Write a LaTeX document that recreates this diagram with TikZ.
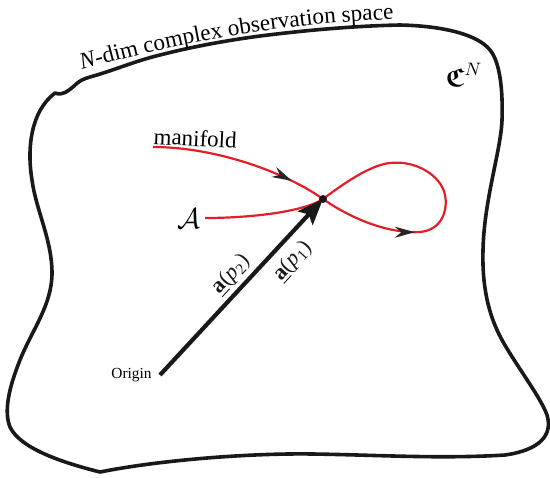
\documentclass[tikz,border=0pt]{standalone}
\usepackage{amsmath, amssymb}
\usepackage{fontspec}
\setmainfont{Liberation Serif}
\usetikzlibrary{arrows.meta, positioning, decorations.markings, decorations.text}
\definecolor{mfred}{RGB}{228,30,40}
\newcommand\ttlfont{\fontsize{11.6}{14}\selectfont}

\begin{document}
\begin{tikzpicture}[x=0.5pt, y=-0.5pt,
  outline/.style={line width=1.8pt, black!90, line join=round},
  mfold/.style={line width=1.1pt, mfred},
  tipmark/.style={postaction={decorate}, decoration={markings,
      mark=at position #1 with {\arrow[black!85]{Stealth[length=10pt, width=5.5pt]}}}},
  vec/.style={line width=2.1pt, black!90, -{Stealth[length=13pt, width=10pt, inset=2.5pt]}},
  dot/.style={circle, fill=black!90, inner sep=0pt, minimum size=4pt},
  lbl/.style={font=\fontsize{11}{13}\selectfont, inner sep=1pt}
]
  \useasboundingbox (0,0) rectangle (550,477);

  % observation space boundary
  \draw[outline] (55,93)
    .. controls (63,96) and (68,91) .. (74,86)
    .. controls (79,81) and (83,79) .. (90,77)
    .. controls (115,70) and (135,61) .. (160,55)
    .. controls (195,46) and (230,40) .. (260,36)
    .. controls (300,31) and (350,26) .. (400,25)
    .. controls (445,26) and (478,35) .. (490,50)
    .. controls (500,62) and (503,90) .. (502,120)
    .. controls (501,150) and (484,200) .. (483,250)
    .. controls (482,285) and (488,310) .. (497,330)
    .. controls (508,355) and (540,395) .. (547,415)
    .. controls (553,435) and (540,450) .. (505,455)
    .. controls (440,459) and (380,455) .. (313,454)
    .. controls (250,453) and (160,460) .. (100,472)
    .. controls (60,462) and (20,448) .. (10,427)
    .. controls (4,412) and (8,390) .. (20,360)
    .. controls (32,330) and (52,305) .. (52,273)
    .. controls (52,240) and (36,210) .. (32,180)
    .. controls (27,150) and (30,112) .. (55,93) -- cycle;

  % title along the boundary
  \path[decorate, decoration={text along path,
      text={|\ttlfont\itshape|N|\ttlfont\upshape|-dim complex observation space}}]
    (82,70) .. controls (160,47) and (280,22) .. (400,19);

  \node[font=\fontsize{13}{15}\selectfont, inner sep=0pt] (CN) at (464,75) {$\boldsymbol{\mathfrak{C}}^{N}$};

  % manifold
  \coordinate (mstart) at (153,147);
  \coordinate (X) at (323,199);
  \coordinate (atail) at (205,218);
  \draw[mfold, tipmark=0.8] (mstart) .. controls (215,147) and (285,172) .. (X);
  \draw[mfold, tipmark=0.95] (X) .. controls (350,218) and (388,234) .. (420,232);
  \draw[mfold] (420,232) .. controls (442,230) and (448,210) .. (445,195)
    .. controls (441,175) and (415,160) .. (390,163)
    .. controls (370,165) and (343,184) .. (X)
    .. controls (303,212) and (250,218) .. (atail);

  \node[font=\fontsize{11.5}{14}\selectfont, anchor=base west, inner sep=0pt, rotate=-3] (mflabel) at (153,144) {manifold};
  \node[font=\fontsize{14}{16}\selectfont, inner sep=0pt] (calA) at (189,219) {$\mathcal{A}$};

  % steering vectors
  \coordinate (O) at (160,375);
  \draw[vec] (O) -- (X)
    node[lbl, pos=0.51, sloped, above=1pt] (ap2) {\underline{\textbf{a}}(\textit{p}\textsubscript{2})}
    node[lbl, pos=0.725, sloped, below=3pt] (ap1) {\underline{\textbf{a}}(\textit{p}\textsubscript{1})};
  \node[dot] (xdot) at (X) {};
  \node[font=\fontsize{7.7}{9}\selectfont, inner sep=0pt, left=4pt of O] (origin) {Origin};
\end{tikzpicture}
\end{document}
